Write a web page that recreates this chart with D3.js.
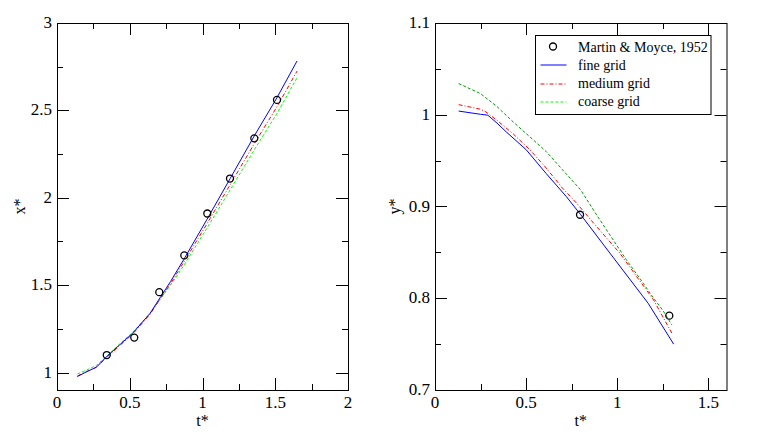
<!DOCTYPE html>
<html>
<head>
<meta charset="utf-8">
<script src="https://cdn.jsdelivr.net/npm/d3@7"></script>
<style>
  body { margin: 0; background: #fff; }
</style>
</head>
<body>
<div id="plot"></div>
<script>
// ---------------- data ----------------
// left panel: x* vs t*
const expT1 = [0.342, 0.531, 0.703, 0.875, 1.033, 1.189, 1.356, 1.512];
const expX1 = [1.10, 1.20, 1.46, 1.67, 1.91, 2.11, 2.34, 2.56];

const lineT1 = [0.14, 0.20, 0.27, 0.35, 0.43, 0.52, 0.64, 0.71, 0.78, 0.87, 1.03, 1.19, 1.36, 1.51, 1.65];
const fineX1 = [0.977, 1.003, 1.030, 1.098, 1.158, 1.225, 1.339, 1.430, 1.520, 1.645, 1.875, 2.110, 2.360, 2.570, 2.783];
const mediumX1 = [0.980, 1.004, 1.030, 1.093, 1.153, 1.220, 1.334, 1.422, 1.508, 1.630, 1.850, 2.075, 2.315, 2.518, 2.725];
const coarseX1 = [0.992, 1.013, 1.040, 1.100, 1.163, 1.230, 1.339, 1.420, 1.500, 1.610, 1.825, 2.045, 2.280, 2.480, 2.687];

// right panel: y* vs t*
const expT2 = [0.796, 1.286];
const expY2 = [0.891, 0.781];

const fineT2 = [0.13, 0.25, 0.29, 0.34, 0.39, 0.50, 0.61, 0.72, 0.80, 0.98, 1.17, 1.31];
const fineY2 = [1.004, 1.0005, 0.9995, 0.991, 0.9815, 0.962, 0.936, 0.911, 0.891, 0.844, 0.7945, 0.750];
const mediumT2 = [0.13, 0.25, 0.28, 0.34, 0.43, 0.52, 0.61, 0.70, 0.78, 0.87, 1.015, 1.20, 1.30];
const mediumY2 = [1.011, 1.006, 1.003, 0.994, 0.979, 0.962, 0.942, 0.920, 0.903, 0.882, 0.849, 0.798, 0.762];
const coarseT2 = [0.13, 0.25, 0.34, 0.43, 0.52, 0.61, 0.70, 0.80, 0.88, 0.98, 1.05, 1.13, 1.20, 1.25, 1.30];
const coarseY2 = [1.034, 1.023, 1.009, 0.992, 0.976, 0.960, 0.940, 0.918, 0.893, 0.863, 0.842, 0.820, 0.800, 0.787, 0.771];

const legendLabels = ["Martin & Moyce, 1952", "fine grid", "medium grid", "coarse grid"];

// ---------------- plot ----------------
const w = 761, h = 435;
const svg = d3.select("#plot").append("svg")
  .attr("width", w).attr("height", h)
  .attr("font-family", "'Liberation Serif', 'DejaVu Serif', serif");

const zip = (xs, ys) => xs.map((x, i) => [x, ys[i]]);

function panel(opts) {
  const x = d3.scaleLinear().domain(opts.xDomain).range([opts.left, opts.right]);
  const y = d3.scaleLinear().domain(opts.yDomain).range([opts.bottom, opts.top]);
  const g = svg.append("g");

  // ticks, inward on all four sides
  const xMajor = d3.range(opts.xDomain[0], opts.xDomain[1] + 1e-9, opts.xStep);
  const xMinor = d3.range(opts.xDomain[0], opts.xDomain[1] + 1e-9, opts.xStep / 2).filter(v => !xMajor.some(m => Math.abs(m - v) < 1e-9));
  const yStart = Math.ceil(opts.yDomain[0] / opts.yStep - 1e-9) * opts.yStep;
  const yMajor = d3.range(yStart, opts.yDomain[1] + 1e-9, opts.yStep);
  const yMinor = d3.range(yStart - opts.yStep / 2, opts.yDomain[1] + 1e-9, opts.yStep / 2)
    .filter(v => v >= opts.yDomain[0] - 1e-9 && !yMajor.some(m => Math.abs(m - v) < 1e-9));

  const ticks = g.append("g").attr("stroke", "#000").attr("stroke-width", 1);
  const addX = (vals, len) => vals.forEach(v => {
    const px = Math.round(x(v)) + 0.5;
    ticks.append("line").attr("x1", px).attr("x2", px).attr("y1", opts.bottom).attr("y2", opts.bottom - len);
    ticks.append("line").attr("x1", px).attr("x2", px).attr("y1", opts.top).attr("y2", opts.top + len);
  });
  const addY = (vals, len) => vals.forEach(v => {
    const py = Math.round(y(v)) + 0.5;
    ticks.append("line").attr("y1", py).attr("y2", py).attr("x1", opts.left).attr("x2", opts.left + len);
    ticks.append("line").attr("y1", py).attr("y2", py).attr("x1", opts.right).attr("x2", opts.right - len);
  });
  addX(xMajor, 12); addX(xMinor, 6);
  addY(yMajor, 12); addY(yMinor, 6);

  // tick labels
  const lab = g.append("g").attr("font-size", 17).attr("fill", "#000");
  xMajor.forEach(v => lab.append("text").attr("x", x(v)).attr("y", opts.bottom + 18)
    .attr("text-anchor", "middle").text(d3.format("~g")(+v.toFixed(3))));
  yMajor.forEach(v => lab.append("text").attr("x", opts.left - 5).attr("y", y(v) + 5)
    .attr("text-anchor", "end").text(opts.yFormat(+v.toFixed(3))));

  // axis titles
  g.append("text").attr("x", (opts.left + opts.right) / 2).attr("y", opts.bottom + 36)
    .attr("text-anchor", "middle").attr("font-size", 16).text("t*");
  g.append("text").attr("transform", `translate(${opts.left - opts.yTitleOff},${(opts.top + opts.bottom) / 2}) rotate(-90)`)
    .attr("text-anchor", "middle").attr("font-size", 16).text(opts.yTitle);

  // curves
  const line = d3.line().x(d => x(d[0])).y(d => y(d[1]));
  opts.series.forEach(s => {
    g.append("path").datum(s.data).attr("d", line)
      .attr("fill", "none").attr("stroke", s.color).attr("stroke-width", 1)
      .attr("stroke-dasharray", s.dash || null);
  });

  // experimental points
  g.append("g").selectAll("circle").data(opts.points).enter().append("circle")
    .attr("cx", d => x(d[0])).attr("cy", d => y(d[1])).attr("r", 3.5)
    .attr("fill", "none").attr("stroke", "#000").attr("stroke-width", 1.3);

  // frame
  g.append("rect").attr("x", opts.left + 0.5).attr("y", opts.top + 0.5)
    .attr("width", opts.right - opts.left).attr("height", opts.bottom - opts.top)
    .attr("fill", "none").attr("stroke", "#000").attr("stroke-width", 1);

  return { x, y, g };
}

panel({
  left: 57, right: 348, top: 23, bottom: 390,
  xDomain: [0, 2], yDomain: [0.9, 3], xStep: 0.5, yStep: 0.5,
  yTitle: "x*", yTitleOff: 32,
  yFormat: d3.format("~g"),
  points: zip(expT1, expX1),
  series: [
    { data: zip(lineT1, coarseX1), color: "#00ff00", dash: "3,2" },
    { data: zip(lineT1, mediumX1), color: "#ff0000", dash: "4,2,1,2" },
    { data: zip(lineT1, fineX1), color: "#0000ff" }
  ]
});

panel({
  left: 435, right: 726.5, top: 23, bottom: 390,
  xDomain: [0, 1.6], yDomain: [0.7, 1.1], xStep: 0.5, yStep: 0.1,
  yTitle: "y*", yTitleOff: 35,
  yFormat: v => (v === 1 ? "1" : v.toFixed(1)),
  points: zip(expT2, expY2),
  series: [
    { data: zip(coarseT2, coarseY2), color: "#009a00", dash: "3,2" },
    { data: zip(mediumT2, mediumY2), color: "#ff0000", dash: "4,2,1,2" },
    { data: zip(fineT2, fineY2), color: "#0000ff" }
  ]
});

// ---------------- legend ----------------
const leg = svg.append("g").attr("transform", "translate(535.5,35.5)");
leg.append("rect").attr("width", 175.5).attr("height", 79).attr("fill", "#fff").attr("stroke", "#000").attr("stroke-width", 1);
const legStyles = [
  { color: "#0000ff", dash: null },
  { color: "#ff0000", dash: "4,2,1,2" },
  { color: "#00ff00", dash: "3,2" }
];
legendLabels.forEach((label, i) => {
  const yy = 11 + i * 18.3;
  if (i === 0) {
    leg.append("circle").attr("cx", 17.5).attr("cy", yy).attr("r", 3.5)
      .attr("fill", "none").attr("stroke", "#000").attr("stroke-width", 1.3);
  } else {
    const s = legStyles[i - 1];
    leg.append("line").attr("x1", 5).attr("x2", 31).attr("y1", Math.round(yy) + 0.5).attr("y2", Math.round(yy) + 0.5)
      .attr("stroke", s.color).attr("stroke-width", 1).attr("stroke-dasharray", s.dash);
  }
  leg.append("text").attr("x", 42.5).attr("y", yy + 5).attr("font-size", 14).text(label);
});
</script>
</body>
</html>
